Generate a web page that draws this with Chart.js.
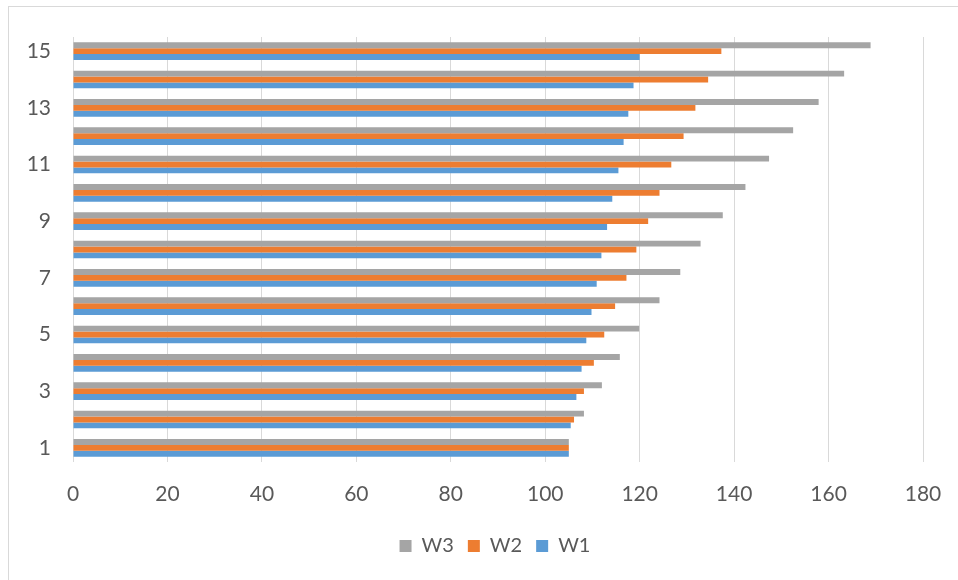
<!DOCTYPE html>
<html>
<head>
<meta charset="utf-8">
<script src="https://cdn.jsdelivr.net/npm/chart.js@4/dist/chart.umd.min.js"></script>
<style>
  html, body { margin: 0; padding: 0; background: #fff; overflow: hidden; }
  #frame { position: absolute; left: 8px; top: 6px; width: 960px; height: 590px; border: 1px solid #d9d9d9; box-sizing: border-box; }
  #wrap { position: absolute; left: 0; top: 0; width: 958px; height: 580px; }
</style>
</head>
<body>
<div id="frame"></div>
<div id="wrap"><canvas id="myChart"></canvas></div>
<script>
const categories = ['1', '2', '3', '4', '5', '6', '7', '8', '9', '10', '11', '12', '13', '14', '15'];
const w1 = [105, 105.4, 106.6, 107.7, 108.7, 109.8, 110.9, 111.9, 113.1, 114.2, 115.5, 116.6, 117.6, 118.7, 120.0];
const w2 = [105, 106.1, 108.2, 110.3, 112.5, 114.8, 117.2, 119.3, 121.8, 124.2, 126.7, 129.3, 131.8, 134.5, 137.3];
const w3 = [105, 108.2, 112.0, 115.8, 119.9, 124.2, 128.6, 132.9, 137.6, 142.4, 147.4, 152.5, 157.9, 163.3, 168.9];

const textColor = '#595959';
const fontFamily = 'Lato, "Open Sans", sans-serif';

const ctx = document.getElementById('myChart').getContext('2d');

// centre the legend under the plot, not the whole canvas
const legendShift = {
    id: 'legendShift',
    afterLayout(chart) {
        chart.legend.left = chart.chartArea.left - 6;
    }
};

const myChart = new Chart(ctx, {
    type: 'bar',
    data: {
        labels: categories,
        datasets: [
            { label: 'W3', data: w3, backgroundColor: '#A5A5A5' },
            { label: 'W2', data: w2, backgroundColor: '#ED7D31' },
            { label: 'W1', data: w1, backgroundColor: '#5B9BD5' }
        ]
    },
    plugins: [legendShift],
    options: {
        indexAxis: 'y',
        responsive: true,
        maintainAspectRatio: false,
        animation: false,
        datasets: {
            bar: { categoryPercentage: 0.625, barPercentage: 1.0 }
        },
        layout: {
            padding: { left: 0, right: 35, top: 37, bottom: 14 }
        },
        plugins: {
            legend: {
                position: 'bottom',
                labels: {
                    boxWidth: 12,
                    boxHeight: 12,
                    padding: 14,
                    color: textColor,
                    font: { family: fontFamily, size: 20 }
                }
            },
            tooltip: { enabled: false }
        },
        scales: {
            x: {
                min: 0,
                max: 180,
                ticks: {
                    stepSize: 20,
                    color: textColor,
                    padding: 20,
                    font: { family: fontFamily, size: 21 }
                },
                grid: { color: '#D9D9D9', drawTicks: false },
                border: { display: false },
                afterFit: function (scale) {
                    scale.height = 60;
                    scale.paddingLeft = 0;
                    scale.paddingRight = 0;
                }
            },
            y: {
                reverse: true,
                ticks: {
                    autoSkip: false,
                    color: textColor,
                    padding: 22,
                    font: { family: fontFamily, size: 21 },
                    callback: function (value, index) {
                        return index % 2 === 0 ? this.getLabelForValue(value) : '';
                    }
                },
                grid: { display: false, drawTicks: false },
                border: { display: false },
                afterFit: function (scale) { scale.width = 73; }
            }
        }
    }
});
</script>
</body>
</html>
